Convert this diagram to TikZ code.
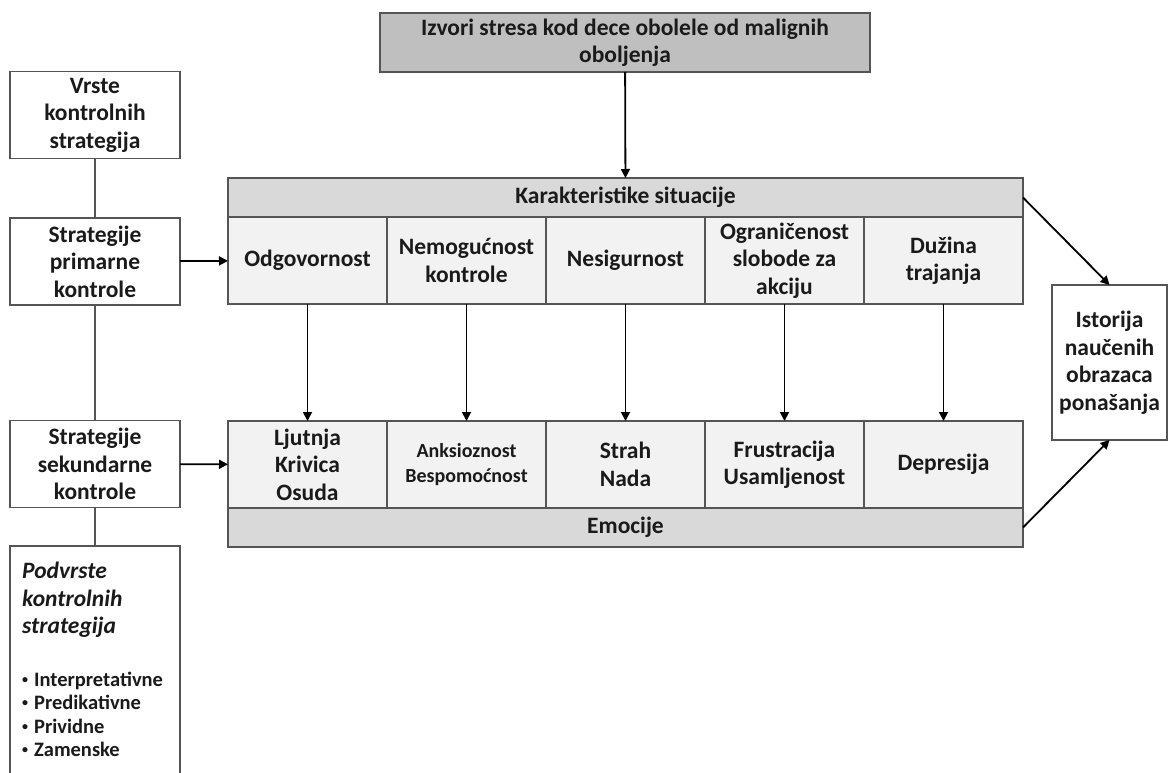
\documentclass[tikz,border=0pt]{standalone}
\usepackage{fontspec}
\setmainfont{Carlito}
\usepackage{xcolor}
\usetikzlibrary{arrows.meta, positioning}
\definecolor{topgray}{HTML}{BFBFBF}
\definecolor{bargray}{HTML}{D9D9D9}
\definecolor{cellgray}{HTML}{F2F2F2}
\definecolor{edgegray}{HTML}{555555}
\definecolor{inkgray}{HTML}{1A1A1A}
\newcommand{\tacka}{{\fontsize{12}{12}\selectfont\raisebox{3pt}{•}}\hspace{6pt}}

\begin{document}
\begin{tikzpicture}[x=1pt,y=-1pt,
    box/.style={draw=edgegray, line width=1.3pt, align=center, text=inkgray,
        font=\bfseries\fontsize{23.5}{27.5}\selectfont, inner sep=0pt, outer sep=0pt},
    cell/.style={box, fill=cellgray, minimum width=159pt, minimum height=87pt},
    bar/.style={box, fill=bargray, minimum width=795pt, minimum height=39pt},
    side/.style={box, minimum width=170pt, minimum height=87pt},
    small/.style={font=\bfseries\fontsize{20}{25}\selectfont},
    arr/.style={-{Triangle[length=9pt,width=9pt]}, line width=1.8pt},
    link/.style={draw=edgegray, line width=1.3pt}]
    \useasboundingbox (0,0) rectangle (1169,773);

    \node[box, fill=topgray, minimum width=490pt, minimum height=59pt] (izvori) at (625,42.5)
        {Izvori stresa kod dece obolele od malignih\\oboljenja};

    % karakteristike situacije
    \node[bar, anchor=north west] (karakt) at (228,178) {Karakteristike situacije};
    \node[cell, anchor=north west] (odgov) at (karakt.south west) {Odgovornost};
    \node[cell, right=0pt of odgov] (nemog) {Nemogućnost\\kontrole};
    \node[cell, right=0pt of nemog] (nesig) {Nesigurnost};
    \node[cell, right=0pt of nesig] (ogran) {Ograničenost\\slobode za\\akciju};
    \node[cell, right=0pt of ogran] (duzina) {Dužina\\trajanja};

    % emocije
    \node[cell, anchor=north west] (ljutnja) at (228,421) {Ljutnja\\Krivica\\Osuda};
    \node[cell, small, right=0pt of ljutnja] (anks) {Anksioznost\\Bespomoćnost};
    \node[cell, right=0pt of anks] (strah) {Strah\\Nada};
    \node[cell, right=0pt of strah] (frust) {Frustracija\\Usamljenost};
    \node[cell, right=0pt of frust] (depr) {Depresija};
    \node[bar, anchor=north west] (emocije) at (ljutnja.south west) {Emocije};

    % vrste kontrolnih strategija
    \node[side] (vrste) at (95,115) {Vrste\\kontrolnih\\strategija};
    \node[side] (primarne) at (95,261.5) {Strategije\\primarne\\kontrole};
    \node[side] (sekundarne) at (95,464) {Strategije\\sekundarne\\kontrole};
    \node[minimum width=170pt, minimum height=232pt, inner sep=0pt, outer sep=0pt,
        anchor=north] (podvrste) at (95,546) {};
    \draw[link] (podvrste.south west) -- (podvrste.north west)
        -- (podvrste.north east) -- (podvrste.south east);
    \node[anchor=north west, align=left, text=inkgray, inner sep=0pt,
        font=\bfseries\itshape\fontsize{23.5}{27.5}\selectfont] (podnaslov) at (22,562)
        {Podvrste\\kontrolnih\\strategija};
    \node[anchor=north west, align=left, text=inkgray, inner sep=0pt,
        font=\bfseries\fontsize{20.5}{23.3}\selectfont] (podlista) at (22,672)
        {\tacka Interpretativne\\\tacka Predikativne\\\tacka Prividne\\\tacka Zamenske};

    \node[box, minimum width=115pt, minimum height=155pt] (istorija) at (1109.5,362.5)
        {Istorija\\naučenih\\obrazaca\\ponašanja};

    % strelice
    \draw[arr] (izvori) -- (karakt);
    \draw[arr] (odgov) -- (ljutnja);
    \draw[arr] (nemog) -- (anks);
    \draw[arr] (nesig) -- (strah);
    \draw[arr] (ogran) -- (frust);
    \draw[arr] (duzina) -- (depr);
    \draw[arr] (primarne) -- (odgov);
    \draw[arr] (sekundarne) -- (ljutnja);
    \draw[arr] (karakt.east) -- (istorija.north);
    \draw[arr] (emocije.east) -- (istorija.south);
    \draw[link] (vrste) -- (primarne);
    \draw[link] (primarne) -- (sekundarne);
    \draw[link] (sekundarne) -- (podvrste.north);

\end{tikzpicture}
\end{document}
